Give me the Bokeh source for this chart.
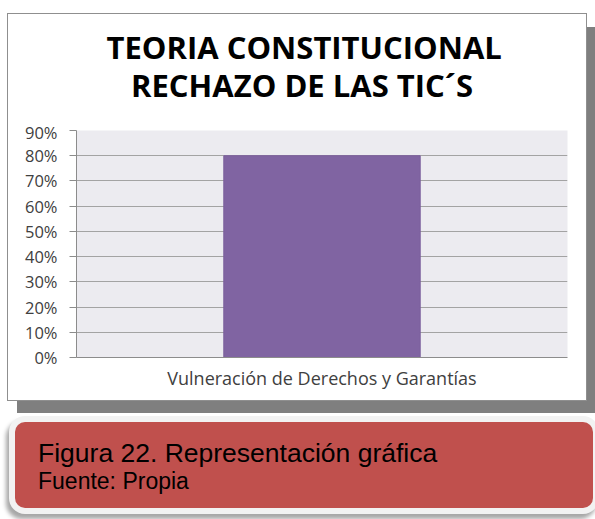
from bokeh.plotting import figure
from bokeh.models import FactorRange, Range1d, FixedTicker, NumeralTickFormatter, Div, ColumnDataSource
from bokeh.core.properties import value
from bokeh.layouts import column
from bokeh.embed import file_html
from bokeh.resources import INLINE

# ---- data ----
categories = ["Vulneración de Derechos y Garantías"]
values = [0.80]
y_ticks = [0.0, 0.1, 0.2, 0.3, 0.4, 0.5, 0.6, 0.7, 0.8, 0.9]
title_lines = ["TEORIA CONSTITUCIONAL", "RECHAZO DE LAS TIC´S"]
caption_title = "Figura 22. Representación gráfica"
caption_source = "Fuente: Propia"

FONT = "Open Sans"
W = 578
TITLE_H = 106
CHART_H = 280

# ---- title strip (its own small figure, pixel coordinates) ----
tf = figure(width=W, height=TITLE_H, x_range=Range1d(0, W), y_range=Range1d(TITLE_H, 0),
            x_axis_type=None, y_axis_type=None, output_backend="svg", toolbar_location=None,
            min_border=0, outline_line_color=None, background_fill_color="white",
            border_fill_color="white")
tf.xgrid.visible = False
tf.ygrid.visible = False
title_src = ColumnDataSource(dict(text=title_lines, x=[268, 265.5], y=[32, 70]))
tf.text(x="x", y="y", text="text", source=title_src, text_align="center",
        text_baseline="alphabetic", text_font=value(FONT), text_font_size="31px",
        text_font_style="bold", text_color="black")

# ---- bar chart ----
src = ColumnDataSource(dict(cat=categories, val=values))
p = figure(
    width=W, height=CHART_H,
    x_range=FactorRange(*categories, range_padding=0),
    y_range=Range1d(0, 0.9),
    output_backend="svg", toolbar_location=None,
    min_border_left=68, min_border_right=19, min_border_top=10, min_border_bottom=43,
    background_fill_color="#ECEBF0", border_fill_color="white",
    outline_line_color=None,
)
p.vbar(x="cat", top="val", width=0.4, source=src, fill_color="#8064A2", line_color="#7a5e9c")

p.yaxis.ticker = FixedTicker(ticks=y_ticks)
p.yaxis.formatter = NumeralTickFormatter(format="0%")
p.yaxis.major_label_text_font = FONT
p.yaxis.major_label_text_font_size = "16.5px"
p.yaxis.major_label_text_color = "#404040"
p.yaxis.axis_line_color = "#8c8c8c"
p.yaxis.major_tick_line_color = "#8c8c8c"
p.yaxis.major_tick_out = 7
p.yaxis.major_tick_in = 0
p.yaxis.minor_tick_line_color = None
p.yaxis.major_label_standoff = 12

p.xaxis.major_label_text_font = FONT
p.xaxis.major_label_text_font_size = "18px"
p.xaxis.major_label_text_color = "#404040"
p.xaxis.axis_line_color = "#8c8c8c"
p.xaxis.major_tick_line_color = None
p.xaxis.major_tick_out = 0
p.xaxis.major_label_standoff = 8

p.xgrid.grid_line_color = None
p.ygrid.grid_line_color = "#a3a3a3"
p.ygrid.ticker = FixedTicker(ticks=y_ticks)

chart_box = column(tf, p, spacing=0, margin=(14, 0, 0, 8),
                   styles={"box-shadow": "0 0 0 1px #8f8f8f, 9px 13px 0 0 #7f7f7f",
                           "background-color": "white"})

# ---- caption ----
caption_html = (
    '<div style="padding:16px 0 0 23px; font-family:\'Liberation Sans\', Arial, sans-serif; color:#000;">'
    f'<div style="font-size:26.5px; line-height:30px; white-space:nowrap;">{caption_title}</div>'
    f'<div style="font-size:23px; line-height:26px; white-space:nowrap;">{caption_source}</div>'
    '</div>'
)
cap = Div(text=caption_html, width=578, height=86, margin=(22, 0, 0, 15),
          styles={"background-color": "#C0504D", "border-radius": "10px",
                  "box-shadow": "0 0 0 6px #F2F2F2, -3px 5px 4px 6px rgba(0,0,0,0.35)"})

layout = column(chart_box, cap, spacing=0)
open("out.html", "w").write(file_html(layout, INLINE))
